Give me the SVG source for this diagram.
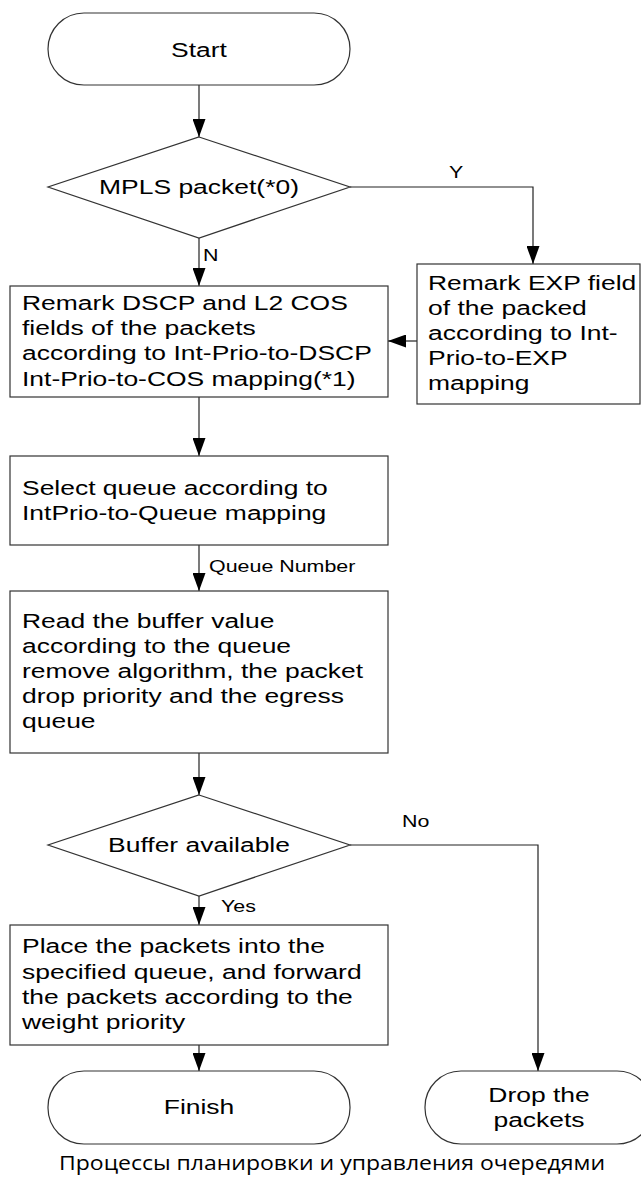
<svg xmlns="http://www.w3.org/2000/svg" width="641" height="1178" viewBox="0 0 641 1178">
<defs>
<marker id="ah" markerWidth="18" markerHeight="13" refX="18" refY="6.5" viewBox="0 0 18 13" orient="auto" markerUnits="userSpaceOnUse">
<path d="M0,0 L18,6.5 L0,13 Z" fill="#000"/>
</marker>
<style>
.s{fill:#fff;stroke:#333;stroke-width:1.2}
.c{fill:none;stroke:#222;stroke-width:1.2;marker-end:url(#ah)}
.t{font-family:"Liberation Sans",Arial,sans-serif;font-size:21px;fill:#000}
.m{text-anchor:middle}
.l{font-family:"Liberation Sans",Arial,sans-serif;font-size:17px;fill:#000}
.cap{font-family:"Open Sans","Noto Sans",sans-serif;font-size:20px;fill:#000;text-anchor:middle}
</style>
</defs>
<rect width="641" height="1178" fill="#fff"/>
<g id="connectors">
<path class="c" d="M199,85 V137"/>
<path class="c" d="M350,187 H533 V264"/>
<path class="c" d="M199,238 V286"/>
<path class="c" d="M417,341 H388"/>
<path class="c" d="M199,397 V456"/>
<path class="c" d="M199,545 V591"/>
<path class="c" d="M199,753 V795"/>
<path class="c" d="M350,845 H538 V1071"/>
<path class="c" d="M199,896 V925"/>
<path class="c" d="M199,1045 V1071"/>
<text class="l" transform="matrix(1.26,0,0,1,449,0)" x="0" y="178">Y</text>
<text class="l" transform="matrix(1.26,0,0,1,203,0)" x="0" y="261">N</text>
<text class="l" transform="matrix(1.26,0,0,1,209,0)" x="0" y="572">Queue Number</text>
<text class="l" transform="matrix(1.26,0,0,1,402,0)" x="0" y="827">No</text>
<text class="l" transform="matrix(1.26,0,0,1,221,0)" x="0" y="912">Yes</text>
</g>
<g id="start">
<rect class="s" x="48" y="13" width="302" height="72" rx="36" ry="36"/>
<text class="t m" transform="matrix(1.26,0,0,1,199,0)" x="0" y="57">Start</text>
</g>
<g id="mpls">
<path class="s" d="M199,137 L350,187 L199,238 L48,187 Z"/>
<text class="t m" transform="matrix(1.26,0,0,1,199,0)" x="0" y="194">MPLS packet(*0)</text>
</g>
<g id="remark-exp">
<rect class="s" x="417" y="264" width="223" height="140"/>
<g transform="matrix(1.26,0,0,1,428,0)">
<text class="t" x="0" y="290">Remark EXP field</text>
<text class="t" x="0" y="315">of the packed</text>
<text class="t" x="0" y="340">according to Int-</text>
<text class="t" x="0" y="365">Prio-to-EXP</text>
<text class="t" x="0" y="390">mapping</text>
</g>
</g>
<g id="remark-dscp">
<rect class="s" x="10" y="286" width="378" height="111"/>
<g transform="matrix(1.26,0,0,1,22,0)">
<text class="t" x="0" y="310">Remark DSCP and L2 COS</text>
<text class="t" x="0" y="335">fields of the packets</text>
<text class="t" x="0" y="360">according to Int-Prio-to-DSCP</text>
<text class="t" x="0" y="386">Int-Prio-to-COS mapping(*1)</text>
</g>
</g>
<g id="select-queue">
<rect class="s" x="10" y="456" width="378" height="89"/>
<g transform="matrix(1.26,0,0,1,22,0)">
<text class="t" x="0" y="495">Select queue according to</text>
<text class="t" x="0" y="520">IntPrio-to-Queue mapping</text>
</g>
</g>
<g id="read-buffer">
<rect class="s" x="10" y="591" width="378" height="162"/>
<g transform="matrix(1.26,0,0,1,22,0)">
<text class="t" x="0" y="628">Read the buffer value</text>
<text class="t" x="0" y="653">according to the queue</text>
<text class="t" x="0" y="678">remove algorithm, the packet</text>
<text class="t" x="0" y="703">drop priority and the egress</text>
<text class="t" x="0" y="728">queue</text>
</g>
</g>
<g id="buffer-available">
<path class="s" d="M199,795 L350,845 L199,896 L48,845 Z"/>
<text class="t m" transform="matrix(1.26,0,0,1,199,0)" x="0" y="852">Buffer available</text>
</g>
<g id="place-packets">
<rect class="s" x="10" y="925" width="378" height="120"/>
<g transform="matrix(1.26,0,0,1,22,0)">
<text class="t" x="0" y="953">Place the packets into the</text>
<text class="t" x="0" y="979">specified queue, and forward</text>
<text class="t" x="0" y="1004">the packets according to the</text>
<text class="t" x="0" y="1029">weight priority</text>
</g>
</g>
<g id="finish">
<rect class="s" x="48" y="1071" width="302" height="73" rx="36" ry="36"/>
<text class="t m" transform="matrix(1.26,0,0,1,199,0)" x="0" y="1114">Finish</text>
</g>
<g id="drop">
<rect class="s" x="425" y="1071" width="228" height="73" rx="36" ry="36"/>
<g transform="matrix(1.26,0,0,1,539,0)">
<text class="t m" x="0" y="1102">Drop the</text>
<text class="t m" x="0" y="1127">packets</text>
</g>
</g>
<text class="cap" transform="matrix(1.15,0,0,1,332,0)" x="0" y="1170">Процессы планировки и управления очередями</text>
</svg>
